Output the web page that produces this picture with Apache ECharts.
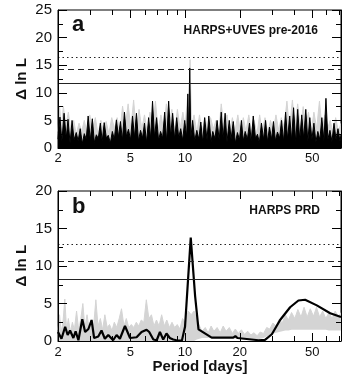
<!DOCTYPE html>
<html>
<head>
<meta charset="utf-8">
<script src="https://cdn.jsdelivr.net/npm/echarts@6/dist/echarts.min.js"></script>
<style>
html, body { margin: 0; padding: 0; background: #fff; }
#chart { width: 342px; height: 382px; }
</style>
</head>
<body>
<div id="chart"></div>
<script>
var FONT = 'Liberation Sans';

// x axis (period, days)
var majorTicks = [2, 5, 10, 20, 50];
var minorTicks = [3, 4, 6, 7, 8, 9, 30, 40, 60, 70];

// threshold levels: solid, dashed, dotted
var levelsA = [11.8, 14.2, 16.5];
var levelsB = [8.3, 10.6, 12.9];

// panel a: HARPS+UVES pre-2016  [period, delta lnL]
var grayA = [[2.00,3.0],[2.04,7.5],[2.09,3.5],[2.14,7.6],[2.21,4.0],[2.28,6.5],[2.36,2.8],[2.44,5.0],[2.52,2.5],[2.61,4.5],[2.70,3.0],[2.79,5.0],[2.89,2.6],[2.99,6.0],[3.10,3.5],[3.21,5.5],[3.32,2.4],[3.44,5.0],[3.56,3.0],[3.68,4.8],[3.81,2.6],[3.95,5.5],[4.09,3.5],[4.23,5.5],[4.38,3.0],[4.53,7.6],[4.69,4.0],[4.86,8.0],[5.03,3.5],[5.21,8.7],[5.39,3.0],[5.58,7.0],[5.78,3.5],[5.98,6.0],[6.19,2.8],[6.41,6.5],[6.64,4.0],[6.87,8.5],[7.11,3.2],[7.36,6.0],[7.62,3.5],[7.89,8.0],[8.17,4.0],[8.46,7.0],[8.76,3.0],[9.07,7.0],[9.39,3.5],[9.72,6.5],[10.0,4.0],[10.3,9.0],[10.5,4.5],[10.65,16.0],[10.85,4.0],[11.2,6.0],[11.6,2.8],[12.0,6.0],[12.4,3.0],[12.9,5.5],[13.3,2.6],[13.8,5.5],[14.3,3.5],[14.8,5.0],[15.3,2.8],[15.8,8.0],[16.4,3.5],[17.0,6.0],[17.6,2.8],[18.2,5.5],[18.8,3.0],[19.5,6.0],[20.2,2.6],[20.9,5.5],[21.6,3.0],[22.4,6.0],[23.2,2.8],[24.0,5.0],[24.8,2.4],[25.7,6.0],[26.6,3.0],[27.5,5.5],[28.5,2.8],[29.5,5.0],[30.5,3.0],[31.6,6.0],[32.7,3.2],[33.8,5.5],[35.0,3.8],[36.3,8.5],[37.5,3.5],[38.9,8.7],[40.2,4.0],[41.6,8.0],[43.1,3.5],[44.6,7.5],[46.1,4.0],[47.7,6.5],[49.4,3.0],[51.1,6.5],[52.9,3.5],[54.8,8.5],[56.7,3.5],[58.7,6.0],[60.7,3.5],[62.8,5.0],[65.0,2.8],[67.3,5.5],[69.7,3.0],[72.0,4.5]];

var blackA = [[2.00,1.6],[2.05,5.6],[2.10,1.2],[2.16,6.3],[2.22,1.8],[2.27,5.2],[2.33,0.9],[2.39,5.0],[2.45,1.5],[2.52,2.8],[2.58,1.3],[2.65,3.5],[2.72,0.8],[2.79,2.6],[2.86,1.6],[2.93,5.8],[3.01,1.4],[3.09,5.3],[3.17,1.0],[3.25,2.4],[3.33,1.7],[3.42,4.5],[3.50,1.2],[3.59,4.6],[3.69,1.8],[3.78,2.3],[3.88,0.9],[3.98,3.0],[4.08,1.6],[4.19,5.1],[4.30,2.0],[4.41,4.8],[4.52,1.4],[4.64,6.5],[4.76,2.1],[4.88,3.4],[5.01,1.5],[5.14,5.8],[5.27,1.9],[5.40,6.3],[5.54,1.3],[5.69,3.2],[5.83,1.8],[5.98,4.5],[6.14,1.0],[6.30,5.5],[6.46,1.7],[6.62,8.5],[6.79,2.0],[6.97,5.5],[7.15,1.4],[7.33,3.0],[7.52,1.8],[7.72,6.5],[7.92,1.1],[8.12,8.5],[8.33,2.1],[8.54,6.3],[8.76,1.6],[8.99,5.5],[9.22,1.9],[9.46,3.5],[9.70,1.4],[9.95,5.0],[10.2,2.0],[10.35,9.8],[10.45,2.0],[10.6,14.5],[10.75,1.8],[11.0,5.0],[11.3,1.3],[11.6,3.2],[11.9,1.6],[12.2,4.7],[12.5,1.0],[12.8,5.5],[13.2,1.5],[13.5,5.8],[13.9,1.2],[14.2,3.0],[14.6,1.7],[15.0,5.0],[15.4,1.4],[15.8,6.5],[16.2,1.8],[16.6,6.3],[17.0,1.1],[17.5,5.0],[17.9,1.6],[18.4,4.8],[18.9,0.9],[19.4,2.8],[19.9,1.5],[20.4,5.0],[20.9,1.3],[21.4,3.0],[22.0,1.6],[22.6,4.5],[23.1,1.2],[23.7,5.8],[24.4,1.7],[25.0,2.5],[25.6,1.0],[26.3,4.5],[27.0,1.5],[27.7,5.0],[28.4,1.1],[29.1,3.8],[29.9,1.6],[30.6,4.8],[31.4,1.3],[32.2,2.9],[33.1,1.8],[33.9,5.0],[34.8,1.2],[35.7,6.5],[36.6,1.6],[37.6,5.8],[38.5,1.4],[39.5,7.3],[40.6,1.0],[41.6,7.0],[42.7,1.5],[43.8,6.0],[44.9,1.7],[46.1,7.0],[47.3,1.2],[48.5,5.5],[49.8,1.6],[51.1,4.5],[52.4,1.1],[53.7,3.0],[55.1,1.5],[56.5,5.5],[58.0,1.3],[59.5,9.0],[61.0,1.6],[62.6,3.2],[64.2,1.2],[65.9,4.5],[67.6,1.5],[69.3,3.5],[71.1,1.2],[72.0,2.5]];

// panel b: HARPS PRD, gray band as [period, lower edge, upper edge]
var grayBBand = [[2.00,0.0,1.5],[2.04,0.0,3.5],[2.08,0.0,1.2],[2.13,0.0,2.5],[2.18,0.0,5.6],[2.23,0.0,1.5],[2.28,0.0,3.0],[2.34,0.0,1.2],[2.40,0.0,2.5],[2.46,0.0,1.5],[2.53,0.0,4.0],[2.60,0.0,1.4],[2.67,0.0,3.0],[2.74,0.0,5.0],[2.81,0.0,1.8],[2.89,0.0,3.5],[2.97,0.0,1.5],[3.05,0.0,2.8],[3.14,0.0,2.0],[3.23,0.0,5.5],[3.32,0.0,2.0],[3.42,0.0,3.0],[3.52,0.0,1.5],[3.62,0.0,3.5],[3.73,0.0,1.8],[3.84,0.0,2.2],[3.96,0.0,1.4],[4.08,0.0,2.5],[4.21,0.0,1.8],[4.34,0.0,3.0],[4.47,0.0,4.3],[4.61,0.0,2.0],[4.75,0.0,3.0],[4.90,0.0,1.8],[5.06,0.0,2.2],[5.22,0.0,1.8],[5.39,0.0,2.5],[5.56,0.0,2.0],[5.74,0.0,2.8],[5.93,0.0,2.5],[6.12,0.0,5.5],[6.32,0.0,3.0],[6.53,0.0,3.5],[6.74,0.0,2.0],[6.96,0.0,2.8],[7.19,0.0,2.0],[7.43,0.0,3.5],[7.68,0.0,2.0],[7.93,0.0,2.8],[8.20,0.0,1.8],[8.47,0.0,2.5],[8.76,0.0,1.8],[9.05,0.0,2.2],[9.36,0.0,1.6],[9.68,0.0,3.0],[10.0,0.0,2.5],[10.4,0.0,4.0],[10.8,0.0,3.5],[11.2,0.0,4.0],[11.6,0.2,2.8],[12.0,0.3,2.0],[12.4,0.4,1.3],[12.9,0.4,1.8],[13.4,0.4,1.1],[13.9,0.4,2.0],[14.4,0.4,1.3],[15.0,0.4,1.8],[15.6,0.4,1.1],[16.2,0.4,2.0],[16.8,0.4,1.3],[17.5,0.4,1.8],[18.2,0.4,1.0],[18.9,0.3,1.6],[19.6,0.3,1.0],[20.4,0.3,1.5],[21.2,0.2,0.9],[22.1,0.2,1.3],[23.0,0.2,0.8],[23.9,0.2,1.1],[24.9,0.2,0.7],[25.9,0.3,1.2],[27.0,0.4,1.0],[28.1,0.6,1.8],[29.2,0.8,1.6],[30.4,1.0,2.4],[31.6,1.1,2.0],[32.9,1.2,2.9],[34.2,1.3,2.4],[35.6,1.4,3.5],[37.0,1.4,2.8],[38.5,1.5,3.8],[40.1,1.5,3.0],[41.7,1.5,4.2],[43.4,1.5,3.2],[45.1,1.5,4.5],[46.9,1.5,3.2],[48.8,1.5,4.3],[50.8,1.5,3.3],[52.8,1.5,4.5],[54.9,1.5,3.2],[57.1,1.5,4.0],[59.4,1.5,3.0],[61.8,1.4,3.8],[64.3,1.4,3.0],[66.9,1.4,4.0],[69.6,1.4,3.2],[72.0,1.4,3.8]];

var blackB = [[2.00,1.2],[2.09,0.3],[2.19,1.9],[2.26,0.8],[2.33,1.4],[2.43,0.4],[2.50,1.3],[2.59,0.1],[2.72,2.9],[2.82,1.2],[2.94,1.6],[3.06,2.8],[3.16,0.4],[3.33,0.6],[3.47,1.4],[3.62,0.3],[3.78,0.8],[4.02,0.1],[4.20,0.8],[4.38,0.3],[4.67,2.0],[4.98,0.4],[5.41,0.5],[5.76,1.2],[6.14,1.5],[6.35,1.2],[6.69,0.2],[6.98,0.1],[7.27,1.2],[7.58,0.2],[7.90,1.0],[8.24,0.4],[8.60,0.2],[8.97,0.1],[9.60,0.05],[9.99,1.9],[10.74,13.8],[11.35,6.0],[11.85,1.55],[14.0,0.45],[18.4,0.45],[18.9,0.65],[19.4,0.4],[25.3,0.1],[27.5,0.15],[30.0,0.9],[33.3,2.8],[37.8,4.5],[42.0,5.4],[45.7,5.5],[53.0,4.75],[62.8,3.7],[72.0,3.2]];

// upper edge filled gray, lower edge cut out in white
var grayBHigh = grayBBand.map(function (r) { return [r[0], r[2]]; });
var grayBLow = grayBBand.map(function (r) { return [r[0], r[1]]; });

function xAxis(grid, pos, ticks, len, labelMargin) {
    return {
        type: 'log', logBase: 10, min: 2, max: 72,
        gridIndex: grid, position: pos, z: 5,
        axisLine: {show: !!labelMargin, lineStyle: {color: '#000', width: 1}},
        splitLine: {show: false},
        axisTick: {show: true, inside: true, length: len, customValues: ticks, lineStyle: {color: '#000', width: 1}},
        axisLabel: labelMargin ? {
            show: true, customValues: majorTicks, margin: labelMargin,
            fontSize: 13, color: '#111', fontFamily: FONT,
            formatter: function (v) { return String(Math.round(v)); }
        } : {show: false}
    };
}

function yAxis(grid, pos, max, labels) {
    return {
        type: 'value', gridIndex: grid, position: pos, z: 5,
        min: 0, max: max, interval: 5,
        axisLine: {show: true, lineStyle: {color: '#000', width: 1}},
        splitLine: {show: false},
        axisTick: {show: true, inside: true, length: 9, lineStyle: {color: '#000', width: 1}},
        minorTick: {show: true, splitNumber: 2, length: 5, lineStyle: {color: '#000', width: 1}},
        axisLabel: labels ? {show: true, margin: 6, fontSize: 15, color: '#111', fontFamily: FONT} : {show: false}
    };
}

function levelLines(levels) {
    var types = ['solid', [6, 4], [1.5, 3]];
    return {
        silent: true, symbol: ['none', 'none'], label: {show: false}, animation: false,
        data: levels.map(function (v, i) {
            return {yAxis: v, lineStyle: {type: types[i], color: '#222', width: 1.1}};
        })
    };
}

function text(str, x, y, size, align, rot) {
    return {
        type: 'text', x: x, y: y, rotation: rot || 0,
        style: {text: str, fill: '#111', font: 'bold ' + size + 'px "' + FONT + '"', align: align, verticalAlign: 'middle'}
    };
}

var myChart = echarts.init(document.getElementById('chart'), null, {renderer: 'canvas'});
myChart.setOption({
    animation: false,
    grid: [
        {left: 58, right: 1, top: 10, height: 138, show: true, borderColor: '#000', borderWidth: 1},
        {left: 58, right: 1, top: 191, height: 150, show: true, borderColor: '#000', borderWidth: 1}
    ],
    xAxis: [
        xAxis(0, 'bottom', majorTicks, 8, 4),
        xAxis(0, 'bottom', minorTicks, 5),
        xAxis(0, 'top', majorTicks, 8),
        xAxis(0, 'top', minorTicks, 5),
        xAxis(1, 'bottom', majorTicks, 8, 5),
        xAxis(1, 'bottom', minorTicks, 5),
        xAxis(1, 'top', majorTicks, 8),
        xAxis(1, 'top', minorTicks, 5)
    ],
    yAxis: [
        yAxis(0, 'left', 25, true),
        yAxis(0, 'right', 25, false),
        yAxis(1, 'left', 20, true),
        yAxis(1, 'right', 20, false)
    ],
    graphic: [
        text('a', 72, 25.4, 22, 'left'),
        text('HARPS+UVES pre-2016', 318, 30.8, 12, 'right'),
        text('b', 72, 207.4, 22, 'left'),
        text('HARPS PRD', 320, 210.8, 12, 'right'),
        text('\u0394 ln L', 22, 79, 15, 'center', Math.PI / 2),
        text('\u0394 ln L', 22, 265.7, 15, 'center', Math.PI / 2),
        text('Period [days]', 200, 366.8, 15, 'center')
    ],
    series: [
        {type: 'line', xAxisIndex: 0, yAxisIndex: 0, data: grayA, symbol: 'none', z: 1,
            lineStyle: {color: '#d4d4d4', width: 1},
            areaStyle: {color: '#d4d4d4', opacity: 1},
            markLine: levelLines(levelsA)},
        {type: 'line', xAxisIndex: 0, yAxisIndex: 0, data: blackA, symbol: 'none', z: 3,
            lineStyle: {color: '#000', width: 1},
            areaStyle: {color: '#000', opacity: 1}},
        {type: 'line', xAxisIndex: 4, yAxisIndex: 2, data: grayBHigh, symbol: 'none', z: 1,
            lineStyle: {color: '#d4d4d4', width: 1},
            areaStyle: {color: '#d4d4d4', opacity: 1},
            markLine: levelLines(levelsB)},
        {type: 'line', xAxisIndex: 4, yAxisIndex: 2, data: grayBLow, symbol: 'none', z: 2,
            lineStyle: {color: '#fff', width: 0},
            areaStyle: {color: '#fff', opacity: 1}},
        {type: 'line', xAxisIndex: 4, yAxisIndex: 2, data: blackB, symbol: 'none', z: 3,
            lineStyle: {color: '#000', width: 2.2}}
    ]
});
</script>
</body>
</html>
